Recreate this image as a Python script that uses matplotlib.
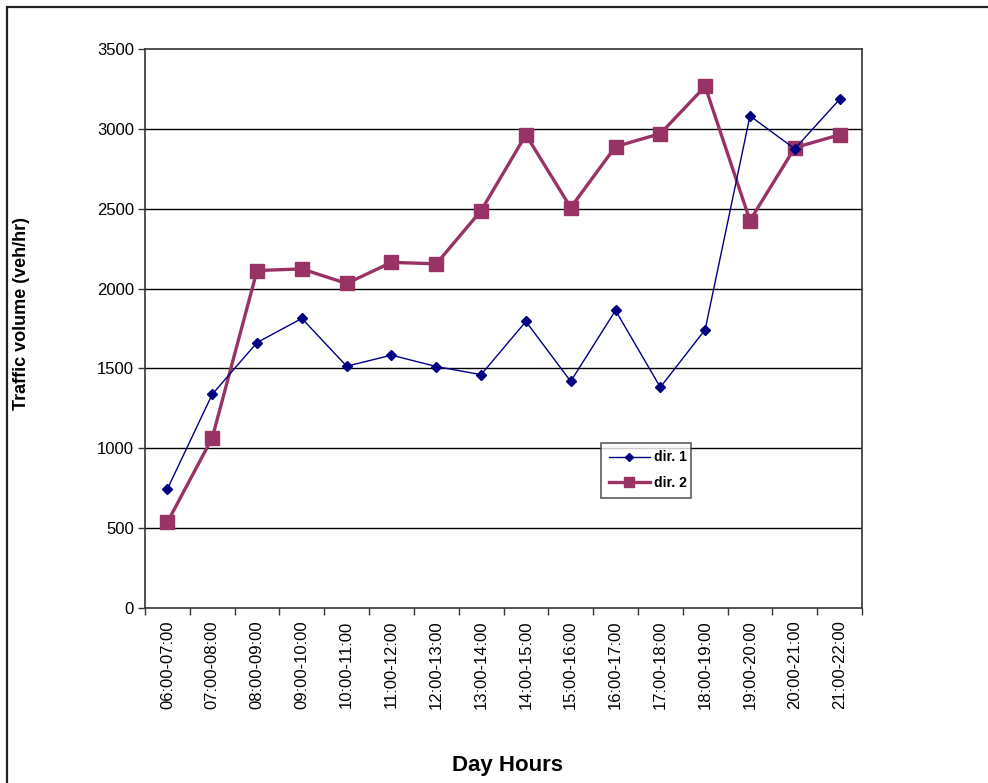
import matplotlib
matplotlib.use("Agg")
import matplotlib.pyplot as plt
from matplotlib.patches import Rectangle
import numpy as np

plt.rcParams['font.family'] = ['Liberation Sans', 'DejaVu Sans']

hours = ["06:00-07:00", "07:00-08:00", "08:00-09:00", "09:00-10:00", "10:00-11:00",
         "11:00-12:00", "12:00-13:00", "13:00-14:00", "14:00-15:00", "15:00-16:00",
         "16:00-17:00", "17:00-18:00", "18:00-19:00", "19:00-20:00", "20:00-21:00",
         "21:00-22:00"]
dir1 = [745, 1338, 1662, 1813, 1514, 1583, 1512, 1461, 1794, 1419, 1863, 1382, 1743, 3081, 2875, 3185]
dir2 = [537, 1065, 2113, 2123, 2032, 2164, 2155, 2488, 2963, 2507, 2889, 2970, 3266, 2426, 2882, 2963]
yticks = [0, 500, 1000, 1500, 2000, 2500, 3000, 3500]

fig = plt.figure(figsize=(9.88, 7.83), dpi=100)
fig.patches.append(Rectangle((7/988, -0.1), 1.2, 1 - 7/783 + 0.1, transform=fig.transFigure,
                             fill=False, edgecolor='#222222', linewidth=1.6))

ax = fig.add_axes([145/988, 1 - 608/783, 717/988, 559/783])
x = np.arange(len(hours)) + 0.5
ax.plot(x, dir1, color='#000080', marker='D', markersize=5, linewidth=1.0, label='dir. 1', zorder=4)
ax.plot(x, dir2, color='#993366', marker='s', markersize=9.5, linewidth=2.4, label='dir. 2', zorder=3)

ax.set_xlim(0, len(hours))
ax.set_ylim(0, 3500)
ax.set_yticks(yticks)
ax.set_yticklabels([str(v) for v in yticks], fontsize=12)
ax.set_xticks(np.arange(len(hours) + 1))
ax.set_xticklabels([])
ax.set_xticks(x, minor=True)
ax.set_xticklabels(hours, minor=True, rotation=90, fontsize=12)
ax.tick_params(axis='x', which='minor', length=0, pad=9)
ax.tick_params(axis='x', which='major', length=5, width=1, color='#333333')
ax.tick_params(axis='y', length=5, width=1, color='#333333', pad=3)
for v in yticks[1:-1]:
    ax.axhline(v, color='black', linewidth=1.0, zorder=1)
for s in ax.spines.values():
    s.set_color('#333333')
    s.set_linewidth(1.2)

fig.text(22 / 988, 1 - 313 / 783, 'Traffic volume (veh/hr)', rotation=90, ha='center', va='center',
         fontsize=13, fontweight='bold')
fig.text(508 / 988, 1 - 766 / 783, 'Day Hours', ha='center', va='center', fontsize=16, fontweight='bold')

leg = ax.legend(loc='lower left', bbox_to_anchor=(0.636, 0.197, 0.125, 0.096), mode='expand',
                prop={'weight': 'bold', 'size': 10}, frameon=True, fancybox=False,
                edgecolor='#333333', handlelength=3.0, handletextpad=0.3, borderpad=0.55,
                labelspacing=0.85, borderaxespad=0)
leg.get_frame().set_linewidth(1.2)
for h in leg.legend_handles:
    h.set_markersize(h.get_markersize() * 0.8)

fig.savefig('out.png', dpi=100, facecolor='white')
